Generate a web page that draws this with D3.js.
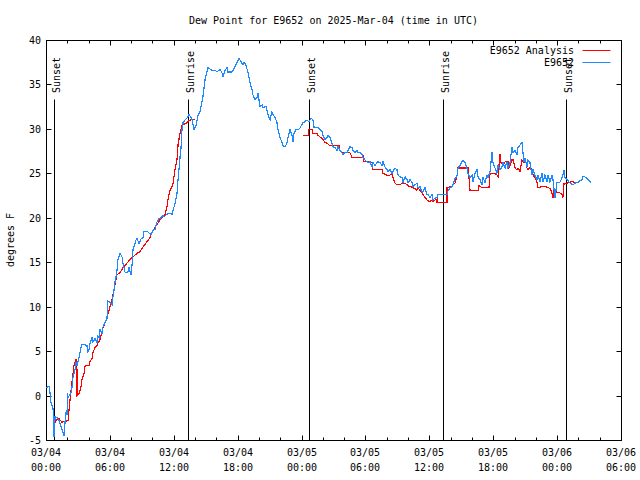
<!DOCTYPE html>
<html><head><meta charset="utf-8">
<script src="https://cdn.jsdelivr.net/npm/d3@7"></script>
<style>
body{margin:0;background:#fff}
svg text{font-family:"DejaVu Sans Mono",monospace;font-size:10px;fill:#000}
</style>
</head><body><svg id="c" width="640" height="480"></svg>
<script>
// ---------- data ----------
const titleText = "Dew Point for E9652 on 2025-Mar-04 (time in UTC)";
const yLabelText = "degrees F";
const seriesNames = ["E9652 Analysis", "E9652"];
const yTicks = [-5, 0, 5, 10, 15, 20, 25, 30, 35, 40];
const xTickHours = [0, 6, 12, 18, 24, 30, 36, 42, 48, 54];
const xTickDates = ["03/04","03/04","03/04","03/04","03/05","03/05","03/05","03/05","03/06","03/06"];
const xTickTimes = ["00:00","06:00","12:00","18:00","00:00","06:00","12:00","18:00","00:00","06:00"];
const sunLabels = ["Sunset","Sunrise","Sunset","Sunrise","Sunset"];
const sunHours = [0.78, 13.36, 24.70, 37.29, 48.83];

// station observations (hours since 03/04 00:00 UTC, deg F)
const obsHours = [0,0.28,0.38,0.47,0.66,0.75,0.85,1.03,1.22,1.41,1.60,1.69,1.78,1.88,1.97,2.02,2.07,2.35,2.44,2.54,2.72,2.82,2.91,3.01,3.19,3.29,3.38,3.57,3.85,3.94,4.04,4.13,4.32,4.41,4.60,4.79,4.88,4.98,5.07,5.26,5.35,5.54,5.73,5.82,6.01,6.20,6.29,6.39,6.48,6.57,6.67,6.76,6.95,7.14,7.23,7.42,7.61,7.70,7.79,7.98,8.08,8.17,8.26,8.45,8.55,8.73,8.92,9.11,9.20,9.49,9.67,9.86,10.05,10.24,10.42,10.61,10.80,10.99,11.08,11.27,11.46,11.65,11.83,11.93,12.11,12.30,12.40,12.58,12.68,12.77,12.87,13.05,13.24,13.43,13.71,13.90,14.09,14.27,14.46,14.56,14.74,14.93,15.12,15.21,15.59,15.87,16.06,16.34,16.53,16.62,16.81,17.00,17.09,17.47,17.56,17.75,17.94,18.13,18.31,18.50,18.60,18.78,18.97,19.16,19.35,19.44,19.63,19.82,19.91,20.10,20.29,20.38,20.66,20.85,21.04,21.22,21.32,21.51,21.69,21.79,21.98,22.16,22.26,22.45,22.63,22.73,22.92,23.10,23.20,23.29,23.48,23.67,23.85,24.14,24.32,24.51,24.70,24.89,25.07,25.17,25.36,25.54,25.73,25.92,26.01,26.20,26.39,26.48,26.67,26.86,26.95,27.14,27.33,27.42,27.61,27.80,27.89,28.08,28.27,28.36,28.55,28.74,28.83,29.02,29.21,29.30,29.49,29.68,29.77,29.96,30.15,30.24,30.43,30.62,30.71,30.90,31.09,31.18,31.37,31.56,31.65,31.84,32.03,32.12,32.31,32.49,32.59,32.78,32.96,33.06,33.25,33.43,33.53,33.72,33.90,34.00,34.18,34.37,34.47,34.65,34.84,34.94,35.12,35.31,35.41,35.59,35.78,35.88,36.06,36.25,36.34,36.53,36.72,36.81,37.66,37.75,37.94,38.13,38.22,38.41,38.60,38.69,38.88,39.07,39.16,39.35,39.54,39.63,39.82,40.01,40.10,40.29,40.48,40.57,40.76,40.95,41.04,41.23,41.42,41.51,41.70,41.89,41.98,42.17,42.36,42.45,42.64,42.82,42.92,43.11,43.29,43.39,43.58,43.76,43.86,44.05,44.23,44.33,44.52,44.70,44.80,44.89,44.98,45.17,45.27,45.45,45.64,45.74,45.92,46.11,46.21,46.39,46.58,46.68,46.86,47.05,47.14,47.33,47.52,47.61,47.80,47.99,48.27,48.46,48.55,48.65,48.74,48.93,49.21,49.49,49.68,49.96,50.34,50.43,50.62,50.90,51.18];
const obsValues = [0.9,1.0,0.3,-0.8,-1.4,-4.7,-2.4,-2.5,-2.8,-3.5,-4.2,-4.5,-3.1,-1.9,-2.2,0.3,-0.2,0.3,0.9,2.1,2.9,3.8,3.4,3.8,4.8,5.4,5.7,5.8,5.6,4.9,5.2,5.9,6.5,6.0,6.4,6.0,6.7,6.5,7.4,7.0,7.7,8.2,8.7,10.6,10.5,10.2,11.1,11.9,12.8,13.3,14.1,15.3,16.0,15.6,14.9,13.9,13.8,13.9,14.4,13.6,14.7,16.4,16.7,17.5,17.7,17.1,17.6,17.8,18.4,18.5,18.3,18.1,18.6,18.7,19.5,19.9,20.0,20.3,20.1,20.3,20.5,20.5,20.4,20.8,21.6,22.7,24.3,26.7,27.9,29.9,30.7,31.0,31.2,31.6,31.1,29.9,30.4,31.5,31.9,32.5,33.6,35.5,36.4,36.9,36.6,36.6,36.4,36.7,36.3,35.8,36.6,36.9,36.4,36.4,36.6,37.0,37.5,37.9,37.6,37.2,37.5,37.2,36.3,35.2,34.4,33.8,33.3,33.5,34.0,32.5,32.7,32.4,32.5,31.6,31.0,31.9,31.6,31.3,30.7,29.9,29.0,28.5,28.1,28.0,28.4,29.0,29.9,29.3,28.5,29.5,29.9,29.9,30.1,30.7,30.8,31.0,30.8,31.2,31.0,30.2,30.1,30.2,29.9,29.7,29.3,28.8,29.0,29.3,29.0,28.4,28.0,27.9,27.6,28.0,27.6,27.3,27.1,27.4,27.3,27.6,28.0,27.9,27.6,27.3,27.6,27.3,27.4,27.1,26.8,26.5,26.3,26.2,26.3,25.7,26.2,25.9,26.2,26.3,26.2,25.9,26.3,25.7,25.4,25.2,25.4,25.0,25.2,25.6,25.4,24.8,24.6,24.5,24.0,24.6,24.3,23.9,24.3,24.0,23.5,23.7,23.9,23.4,23.5,22.9,22.9,23.4,22.6,22.6,22.3,22.6,22.0,22.2,22.3,22.6,22.6,23.0,23.4,23.5,23.7,24.4,24.7,25.6,25.9,26.3,26.5,26.2,25.6,25.0,24.5,24.8,24.0,25.0,25.4,24.6,24.3,23.7,24.5,24.0,24.8,24.5,25.2,27.4,26.2,25.6,25.0,25.9,25.4,25.7,26.2,25.6,26.3,25.6,26.2,28.0,27.3,27.6,27.1,27.9,28.2,28.5,27.3,26.3,26.7,25.7,26.5,26.2,24.8,25.4,24.8,24.3,24.8,24.0,25.0,24.0,24.8,24.0,24.8,24.0,24.8,24.3,22.2,24.0,24.0,24.5,24.8,25.4,24.5,24.3,23.9,23.7,23.9,24.0,24.3,24.6,24.6,24.3,24.0];

// analysis values (null = no analysis)
const anaHours = [0.66,0.94,1.22,1.50,1.88,2.07,2.16,2.25,2.44,2.63,2.82,2.91,2.91,3.10,3.29,3.38,3.57,3.66,4.04,4.13,4.32,4.41,4.60,4.79,4.88,5.07,5.35,5.54,5.73,5.92,6.20,6.39,6.57,6.67,6.95,7.23,7.61,7.89,8.17,8.55,8.83,9.11,9.49,9.77,10.05,10.42,10.71,10.89,11.18,11.36,11.46,11.65,11.83,11.93,12.02,12.11,12.30,12.40,12.58,12.77,12.96,13.24,13.52,13.99,19.0,24.14,24.61,24.70,24.98,25.07,25.45,25.54,25.73,25.92,26.01,26.20,26.39,26.67,27.52,27.61,27.80,28.08,28.36,28.55,28.74,29.68,29.77,29.86,30.24,30.43,30.62,30.71,31.56,31.65,32.03,32.31,32.49,32.59,32.78,32.96,33.25,33.43,33.72,33.90,34.18,34.47,34.84,34.94,35.12,35.31,35.41,35.59,35.78,36.06,36.25,36.34,36.53,36.72,36.72,37.66,37.66,38.13,38.22,38.41,38.60,38.69,39.63,39.73,39.82,40.57,40.66,40.95,41.60,41.70,42.17,42.36,42.45,42.64,42.73,42.92,43.11,43.39,43.48,43.76,43.86,44.05,44.23,44.33,44.52,44.70,44.80,45.08,45.17,45.27,45.45,45.64,45.74,45.92,46.11,46.21,46.58,46.86,47.14,47.33,47.52,47.61,47.71,47.90,47.99,48.27,48.46,48.55,48.65,48.93,49.21,49.49,49.68];
const anaValues = [-3.4,-2.8,-2.6,-3.0,-2.9,-2.8,-1.6,-0.5,1.5,3.4,4.1,2.9,0.0,0.2,1.0,1.8,2.5,3.3,3.4,3.8,4.2,4.8,5.4,5.6,5.9,6.3,7.6,8.2,8.8,9.6,10.8,11.9,13.0,13.6,13.8,14.4,14.9,15.3,15.6,16.0,16.2,16.7,17.3,17.8,18.6,19.2,19.8,20.0,20.4,21.2,22.1,23.1,23.5,23.9,24.6,25.4,26.5,28.2,29.5,30.4,30.5,30.7,31.0,31.1,null,29.3,29.3,29.9,29.9,29.5,29.5,29.3,29.1,28.9,28.8,28.5,28.4,28.1,28.1,27.6,27.4,27.3,27.4,27.3,26.8,26.8,27.1,26.3,26.3,26.2,26.2,25.4,25.4,25.0,24.8,24.8,25.0,24.5,23.9,23.7,23.7,23.9,23.9,23.7,23.5,23.4,23.1,23.4,23.1,22.8,22.6,22.3,22.0,21.8,22.0,21.8,22.0,22.1,21.7,21.7,23.4,23.5,23.7,23.9,24.7,25.6,25.6,24.5,23.1,23.1,23.6,23.4,23.4,25.0,25.0,24.8,24.6,27.2,26.2,25.9,26.3,26.3,25.6,26.5,26.5,25.6,25.4,25.6,25.2,26.5,26.3,26.2,25.6,25.4,25.7,25.4,24.8,24.5,24.0,23.4,23.5,23.5,23.4,23.3,22.8,22.2,23.1,23.1,22.8,22.8,22.6,22.3,23.9,23.9,24.0,24.1,23.9];

// ---------- drawing ----------
const W = 640, H = 480;
const L = 46, R = 621, T = 40, B = 440;
const svg = d3.select("#c");
svg.append("rect").attr("width", W).attr("height", H).attr("fill", "#fff");

const x = d3.scaleLinear().domain([0, 54]).range([L, R]);
const y = d3.scaleLinear().domain([-5, 40]).range([B, T]);

const g = svg.append("g").attr("transform", "translate(0.5,0.5)");

// title & axis label
svg.append("text").attr("x", (L + R) / 2).attr("y", 24).attr("text-anchor", "middle").text(titleText);
svg.append("text").attr("transform", `translate(14,${(T + B) / 2}) rotate(-90)`)
  .attr("text-anchor", "middle").text(yLabelText);

// y ticks (left and mirrored right)
const major = 5, minor = 3;
yTicks.forEach(v => {
  const yy = Math.round(y(v));
  g.append("line").attr("x1", L).attr("x2", L + major).attr("y1", yy).attr("y2", yy).attr("stroke", "#000");
  g.append("line").attr("x1", R).attr("x2", R - major).attr("y1", yy).attr("y2", yy).attr("stroke", "#000");
  svg.append("text").attr("x", 41).attr("y", yy + 4).attr("text-anchor", "end").text(v);
});

// x ticks (bottom and mirrored top), minor every 2 hours
d3.range(0, 55, 2).forEach(h => {
  const xx = Math.round(x(h));
  const len = (h % 6 === 0) ? major : minor;
  g.append("line").attr("x1", xx).attr("x2", xx).attr("y1", B).attr("y2", B - len).attr("stroke", "#000");
  g.append("line").attr("x1", xx).attr("x2", xx).attr("y1", T).attr("y2", T + len).attr("stroke", "#000");
});
xTickHours.forEach((h, i) => {
  const xx = Math.round(x(h));
  const t = svg.append("text").attr("text-anchor", "middle");
  t.append("tspan").attr("x", xx).attr("y", 456).text(xTickDates[i]);
  t.append("tspan").attr("x", xx).attr("y", 471).text(xTickTimes[i]);
});

// sunrise / sunset markers
sunHours.forEach((h, i) => {
  const xx = Math.round(x(h));
  g.append("line").attr("x1", xx).attr("x2", xx).attr("y1", 99).attr("y2", B).attr("stroke", "#000");
  svg.append("text").attr("transform", `translate(${xx + 5.5},93) rotate(-90)`)
    .attr("text-anchor", "start").text(sunLabels[i]);
});

// series
const anaData = anaHours.map((h, i) => ({ h, v: anaValues[i] }));
const obsData = obsHours.map((h, i) => ({ h, v: obsValues[i] }));
const line = d3.line().defined(d => d.v !== null).x(d => x(d.h)).y(d => y(d.v));
const plotG = svg.append("g");
plotG.append("path").datum(anaData).attr("d", line).attr("fill", "none")
  .attr("stroke", "#ff0000").attr("stroke-width", 1.2).attr("shape-rendering", "crispEdges");
plotG.append("path").datum(obsData).attr("d", line).attr("fill", "none")
  .attr("stroke", "#1e88ff").attr("stroke-width", 1.2).attr("shape-rendering", "crispEdges");

// border
g.append("rect").attr("x", L).attr("y", T).attr("width", R - L).attr("height", B - T)
  .attr("fill", "none").attr("stroke", "#000");

// legend
const legColors = ["#ff0000", "#1e88ff"];
seriesNames.forEach((n, i) => {
  const ly = 50 + i * 12;
  svg.append("text").attr("x", 574).attr("y", ly + 4).attr("text-anchor", "end").text(n);
  g.append("line").attr("x1", 582).attr("x2", 610).attr("y1", ly).attr("y2", ly)
    .attr("stroke", legColors[i]);
});
</script></body></html>
